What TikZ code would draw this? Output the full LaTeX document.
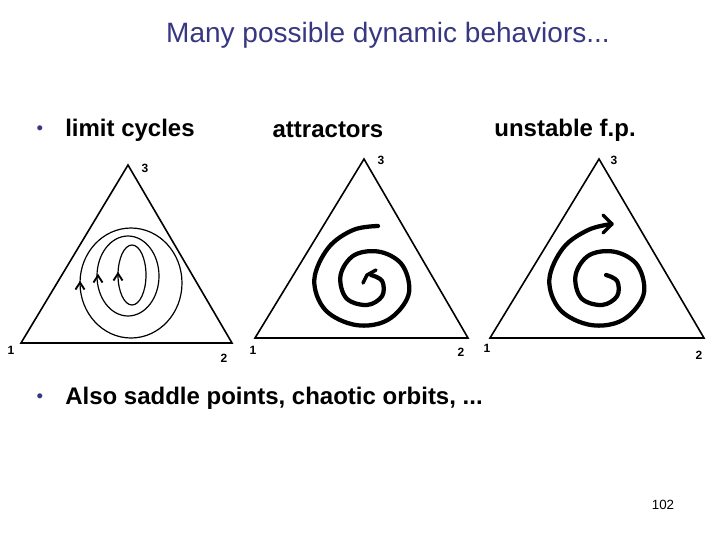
\documentclass[tikz,border=0pt]{standalone}
\usepackage{fontspec}
\setmainfont{Liberation Sans}
\usetikzlibrary{arrows.meta}
\definecolor{titleblue}{RGB}{55,55,130}
\begin{document}
\begin{tikzpicture}[x=0.75pt,y=-0.75pt,
  tri/.style={line width=1.2pt},
  lab/.style={font=\bfseries\fontsize{9}{10}\selectfont,inner sep=0pt},
  head/.style={font=\bfseries\fontsize{18}{21}\selectfont,inner sep=0pt,anchor=west},
  orb/.style={line width=0.9pt},
  spir/.style={line width=3.2pt,line cap=round,line join=round}]
\useasboundingbox (0,0) rectangle (720,540);
\node[font=\fontsize{21}{25}\selectfont,text=titleblue] (title) at (388,35) {Many possible dynamic behaviors...};
\node[text=titleblue,font=\fontsize{14}{16}\selectfont] (b1) at (40,130) {•};
\node[head] (h1) at (65,130) {limit cycles};
\node[head,anchor=center] (h2) at (328,130) {attractors};
\node[head,anchor=center] (h3) at (565,130) {unstable f.p.};
\node[text=titleblue,font=\fontsize{14}{16}\selectfont] (b2) at (40,398) {•};
\node[head] (h4) at (65,398) {Also saddle points, chaotic orbits, ...};
\node[font=\fontsize{10}{12}\selectfont] (pg) at (663,505) {102};
% triangle 1
\coordinate (a1) at (128,165); \coordinate (l1) at (21,343); \coordinate (r1) at (232,343);
\draw[tri] (a1) -- (l1) -- (r1) -- cycle;
\node[lab] (n13) at (145,168) {3}; \node[lab] (n11) at (11,350) {1}; \node[lab] (n12) at (224,358) {2};
\draw[orb] (131,283) ellipse (51 and 55);
\draw[orb] (128,276) ellipse (31 and 40);
\draw[orb] (132,275) ellipse (14 and 30);
\foreach \x/\y in {80/285,98/278,118/276}
  \draw[line width=1.4pt] (\x-4.5,\y+4.5) -- (\x,\y-2.5) -- (\x+4.5,\y+4.5);
% triangle 2
\coordinate (a2) at (364,159); \coordinate (l2) at (255,338); \coordinate (r2) at (468,338);
\draw[tri] (a2) -- (l2) -- (r2) -- cycle;
\node[lab] (n23) at (381,160) {3}; \node[lab] (n21) at (253,350) {1}; \node[lab] (n22) at (461,352) {2};
\begin{scope}[xscale=1.3846]
\draw[spir] plot[smooth,tension=0.6] coordinates {(273,226) (255,230) (237,248) (227,280) (235,310) (257,325) (280,320) (295,295) (291,266) (275,252) (256,255) (246,275) (250,298) (265,305) (276,296) (276,281) (268,275)};
\end{scope}
\draw[line width=2.6pt,line cap=round,line join=round] (363,283) -- (367,275) -- (376,270);
% triangle 3
\coordinate (a3) at (599,159); \coordinate (l3) at (490,338); \coordinate (r3) at (704,338);
\draw[tri] (a3) -- (l3) -- (r3) -- cycle;
\node[lab] (n33) at (614,160) {3}; \node[lab] (n31) at (487,348) {1}; \node[lab] (n32) at (699,355) {2};
\begin{scope}[shift={(235,0)},xscale=1.3846]
\draw[spir] plot[smooth,tension=0.6] coordinates {(272,224) (255,230) (237,248) (227,280) (235,310) (257,325) (280,320) (295,295) (291,266) (275,252) (256,255) (246,275) (250,298) (265,305) (276,296) (276,281) (268,275)};
\end{scope}
\draw[line width=2.6pt,line cap=round,line join=round] (603,215) -- (612,224) -- (603,233);
\end{tikzpicture}
\end{document}
